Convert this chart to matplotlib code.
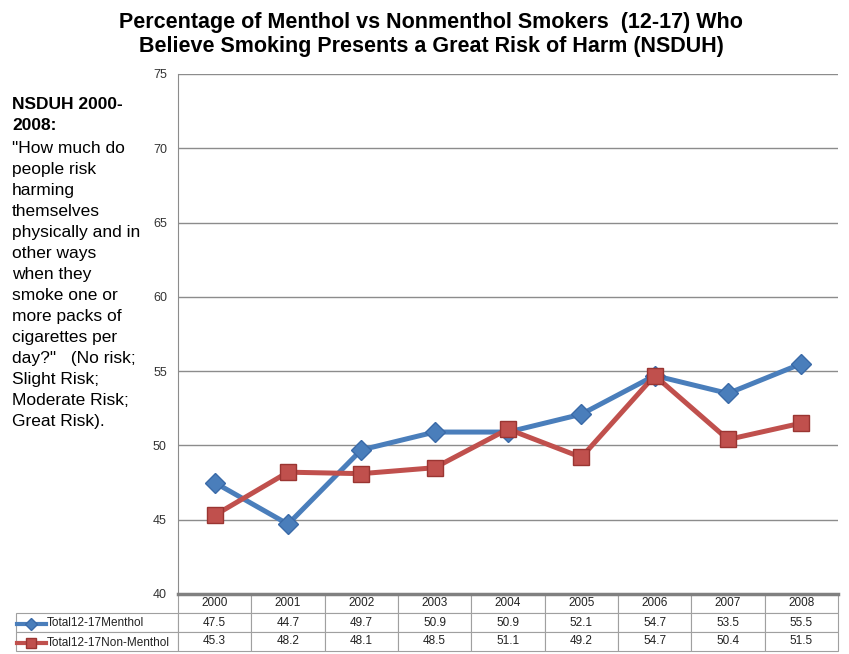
import matplotlib.pyplot as plt
from matplotlib.lines import Line2D

plt.rcParams['font.family'] = ['Liberation Sans', 'DejaVu Sans']

years = ["2000", "2001", "2002", "2003", "2004", "2005", "2006", "2007", "2008"]
menthol = [47.5, 44.7, 49.7, 50.9, 50.9, 52.1, 54.7, 53.5, 55.5]
non_menthol = [45.3, 48.2, 48.1, 48.5, 51.1, 49.2, 54.7, 50.4, 51.5]
series_names = ["Total12-17Menthol", "Total12-17Non-Menthol"]
yticks = [40, 45, 50, 55, 60, 65, 70, 75]

blue = "#4a7ebb"
blue_edge = "#3a6aa8"
red = "#c0504d"
red_edge = "#9a3532"
grid_col = "#8c8c8c"

W, H = 849, 654
fig = plt.figure(figsize=(W / 100, H / 100), dpi=100)
# plot area in pixels: x 178..838, y 74..594
ax = fig.add_axes([178 / W, (H - 594) / H, 660 / W, 520 / H])

x = list(range(len(years)))
ax.plot(x, menthol, color=blue, lw=3.6, marker="D", ms=10,
        mfc=blue, mec=blue_edge, mew=1, zorder=3)
ax.plot(x, non_menthol, color=red, lw=3.6, marker="s", ms=12,
        mfc=red, mec=red_edge, mew=1, zorder=3)

ax.set_xlim(-0.5, len(years) - 0.5)
ax.set_ylim(40, 75)
ax.set_yticks(yticks)
ax.set_xticks([])
ax.tick_params(axis="y", length=0, labelsize=9, labelcolor="#333333", pad=8)
ax.yaxis.grid(True, color=grid_col, lw=1)
ax.set_axisbelow(True)
for side in ("top", "right"):
    ax.spines[side].set_visible(False)
ax.spines["left"].set_color(grid_col)
ax.spines["bottom"].set_color("#808080")
ax.spines["bottom"].set_linewidth(2.5)

# data table under the plot (row labels are drawn separately with their keys)
cells = [[""] + years,
         [""] + [f"{v:.1f}" for v in menthol],
         [""] + [f"{v:.1f}" for v in non_menthol]]
label_w = 162 / 660
col_w = 1 / len(years)
tbl = ax.table(cellText=cells, cellLoc="center",
               colWidths=[label_w] + [col_w] * len(years),
               bbox=[-label_w, -57 / 520, 1 + label_w, 57 / 520])
tbl.auto_set_font_size(False)
tbl.set_fontsize(8.5)
for (r, c), cell in tbl.get_celld().items():
    cell.set_edgecolor("#a0a0a0")
    cell.set_linewidth(0.8)
    cell.get_text().set_color("#222222")
    if r == 0 and c == 0:
        cell.visible_edges = "open"

# legend keys and series names in the row label cells
keys = [(blue, blue_edge, "D", 6), (red, red_edge, "s", 7)]
for i, (name, (col, edge, mk, ms)) in enumerate(zip(series_names, keys)):
    yk = (H - (623.5 + 19 * i)) / H
    fig.add_artist(Line2D([17 / W, 46 / W], [yk, yk], color=col, lw=3,
                          transform=fig.transFigure))
    fig.add_artist(Line2D([31 / W], [yk], marker=mk, ms=ms, mfc=col, mec=edge,
                          transform=fig.transFigure))
    fig.text(47 / W, yk, name, ha="left", va="center", fontsize=8.5,
             color="#222222")

fig.text(431 / W, 1 - 12 / H,
         "Percentage of Menthol vs Nonmenthol Smokers  (12-17) Who\n"
         "Believe Smoking Presents a Great Risk of Harm (NSDUH)",
         ha="center", va="top", fontsize=15.5, fontweight="bold",
         linespacing=1.2)

fig.text(12 / W, 1 - 97 / H, "NSDUH 2000-\n2008:", ha="left", va="top",
         fontsize=12.5, fontweight="bold", linespacing=1.5)
fig.text(12 / W, 1 - 141 / H,
         "\"How much do\npeople risk\nharming\nthemselves\nphysically and in\n"
         "other ways\nwhen they\nsmoke one or\nmore packs of\ncigarettes per\n"
         "day?\"   (No risk;\nSlight Risk;\nModerate Risk;\nGreat Risk).",
         ha="left", va="top", fontsize=12.5, linespacing=1.5)

fig.savefig("out.png", dpi=100)
